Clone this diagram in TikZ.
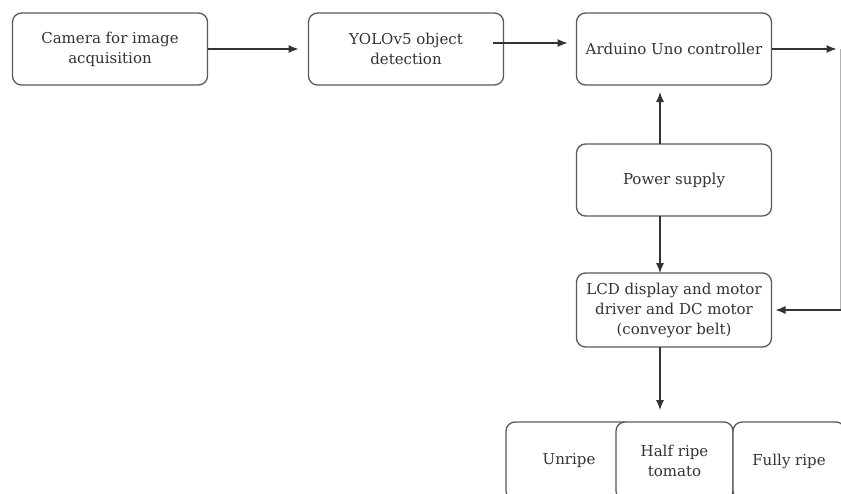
\documentclass[tikz,border=0pt]{standalone}
\usepackage{fontspec}
\setmainfont{DejaVu Serif}
\usepackage{tikz}
\usetikzlibrary{arrows.meta,positioning}
\newcommand{\bfnt}{\fontsize{15}{20}\selectfont}

\begin{document}
\begin{tikzpicture}[x=1pt,y=-1pt]

\tikzset{
	blk/.style={
		draw=black!65,
		rectangle,
		rounded corners=9pt,
		line width=1.3pt,
		fill=white,
		align=center,
		text=black!80,
		minimum width=195pt,
		minimum height=72pt,
		font=\bfnt,
		inner sep=3pt,
		outer sep=0pt},
	tbox/.style={
		blk,
		minimum height=78pt},
	arrout/.style={
		-{Latex[length=10pt,width=8pt]},
		line width=1.1pt,
		draw=black!80}
}

\useasboundingbox (0,0) rectangle (841,493);
\clip (0,0) rectangle (841,493);

\node[blk] (cam) at (110,49) {Camera for image\\acquisition};

\node[blk,right=101pt of cam] (yolo) {YOLOv5 object\\detection};

\node[blk,right=73pt of yolo] (ard) {Arduino Uno controller};

\node[blk,below=59pt of ard] (pow) {Power supply};

\node[blk,below=57pt of pow,minimum height=74pt] (lcd) {LCD display and motor\\driver and DC motor\\(conveyor belt)};

% the three sorted outputs overlap a little
\node[tbox,below=75pt of lcd.south west,anchor=north west,xshift=-70.5pt,minimum width=126pt] (unr) {Unripe};
\node[tbox,right=-16pt of unr,minimum width=117pt] (half) {Half ripe\\tomato};
\node[tbox,right=0pt of half,minimum width=112pt] (full) {Fully ripe};

\coordinate (rtop) at ([xshift=67pt]ard.east);
\coordinate (rbot) at (rtop |- lcd.east);

\draw[arrout,shorten >=10pt] (cam) -- (yolo);
\draw[arrout,shorten <=-11pt,shorten >=9pt] ([yshift=6pt]yolo.east) -- ([yshift=6pt]ard.west);
\draw[arrout,shorten >=2pt] (ard.east) -- (rtop);
\draw[black!30,line width=0.8pt] ([xshift=2pt]rtop) -- ([xshift=2pt]rbot);
\draw[arrout,shorten <=-2pt,shorten >=4pt] (rbot) -- (lcd.east);
\draw[arrout,shorten >=7pt] ([xshift=-14pt]pow.north) -- ([xshift=-14pt]ard.south);
\draw[arrout] ([xshift=-14pt]pow.south) -- ([xshift=-14pt]lcd.north);
\draw[arrout,shorten >=12pt] ([xshift=-14pt]lcd.south) -- ([xshift=-14pt]lcd.south |- half.north);

\end{tikzpicture}
\end{document}
